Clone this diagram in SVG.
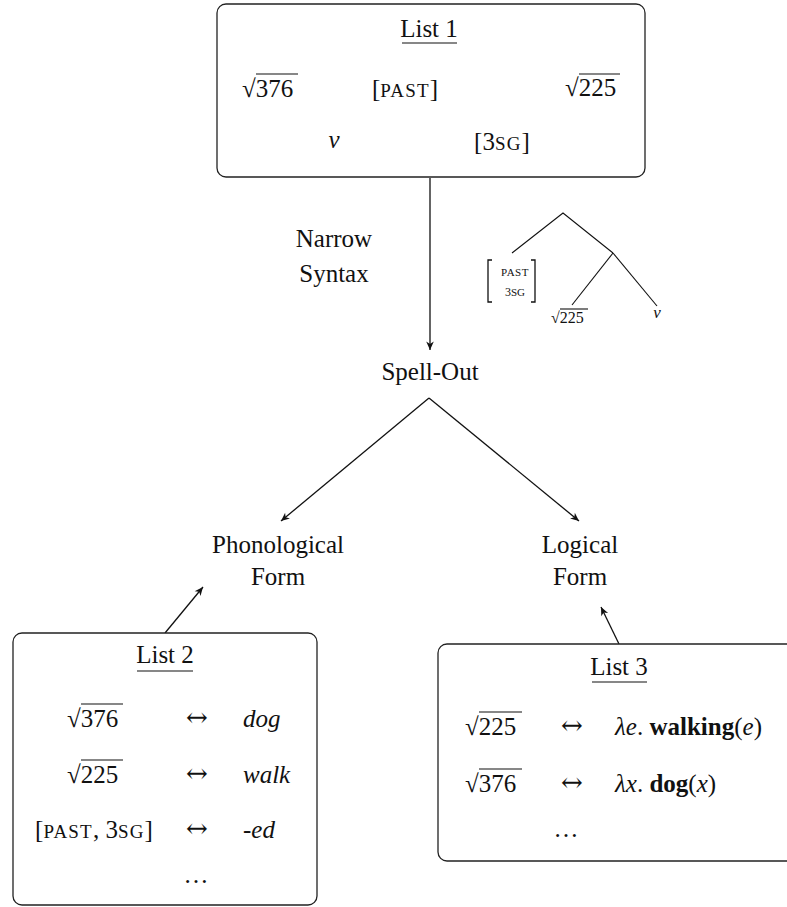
<svg xmlns="http://www.w3.org/2000/svg" width="787" height="907" viewBox="0 0 787 907">
  <style>
    text { font-family: "Liberation Serif", "Times New Roman", serif; fill: #111; }
    .t { font-size: 25px; }
    .sm { font-size: 19px; letter-spacing: 1.2px; }
    .it { font-style: italic; }
    .bf { font-weight: bold; }
    .arr { font-family: "DejaVu Serif", "Liberation Serif", serif; font-size: 26px; }
    .box { fill: #fff; stroke: #222; stroke-width: 1.3; }
    .ln { fill: none; stroke: #111; stroke-width: 1.3; }
    .thin { fill: none; stroke: #111; stroke-width: 1.1; }
  </style>
  <defs>
    <marker id="tip" viewBox="-9 -5 10 10" refX="0" refY="0" markerWidth="10" markerHeight="10" markerUnits="userSpaceOnUse" orient="auto">
      <path d="M0,0 L-8.5,-3.8 L-6,0 L-8.5,3.8 Z" fill="#111"/>
    </marker>
  </defs>

  <rect width="787" height="907" fill="#fff"/>

  <!-- connectors -->
  <g id="connectors">
    <line class="ln" x1="430" y1="178" x2="430" y2="350" marker-end="url(#tip)"/>
    <line class="ln" x1="429" y1="398" x2="281" y2="521" marker-end="url(#tip)"/>
    <line class="ln" x1="429" y1="398" x2="579" y2="521" marker-end="url(#tip)"/>
    <line class="ln" x1="165" y1="633" x2="203" y2="587" marker-end="url(#tip)"/>
    <line class="ln" x1="619" y1="644" x2="601" y2="607" marker-end="url(#tip)"/>
  </g>

  <!-- List 1: inventory of roots and features -->
  <g id="list1">
    <rect class="box" x="217" y="4" width="428" height="173" rx="9"/>
    <text class="t" x="429" y="37" text-anchor="middle">List 1</text>
    <line class="thin" x1="402" y1="43" x2="457" y2="43"/>
    <text class="t" x="242" y="97">√<tspan>376</tspan></text>
    <line class="thin" x1="256" y1="74" x2="298" y2="74"/>
    <text class="t" x="405" y="97" text-anchor="middle">[<tspan class="sm">PAST</tspan>]</text>
    <text class="t" x="565" y="96">√<tspan>225</tspan></text>
    <line class="thin" x1="579" y1="74" x2="620" y2="74"/>
    <text class="t it" x="334" y="148" text-anchor="middle">ν</text>
    <text class="t" x="502" y="150" text-anchor="middle">[3<tspan class="sm">SG</tspan>]</text>
  </g>

  <!-- Narrow Syntax label -->
  <g id="narrow-syntax">
    <text class="t" x="334" y="247" text-anchor="middle">Narrow</text>
    <text class="t" x="334" y="282" text-anchor="middle">Syntax</text>
  </g>

  <!-- small syntactic tree -->
  <g id="tree">
    <polyline class="thin" points="512,253 563,213 613,253"/>
    <line class="thin" x1="613" y1="253" x2="572" y2="305"/>
    <line class="thin" x1="613" y1="253" x2="657" y2="306"/>
    <polyline class="ln" points="492,260 488,260 488,302 492,302"/>
    <polyline class="ln" points="531,260 535,260 535,302 531,302"/>
    <text x="515" y="276" font-size="11" letter-spacing="0.5" text-anchor="middle">PAST</text>
    <text x="515" y="296" font-size="12" text-anchor="middle">3<tspan font-size="11">SG</tspan></text>
    <text x="551" y="323" font-size="16">√<tspan>225</tspan></text>
    <line class="thin" x1="560" y1="309" x2="588" y2="309"/>
    <text x="657" y="318" font-size="17" class="it" text-anchor="middle">ν</text>
  </g>

  <g id="spell-out">
    <text class="t" x="430" y="380" text-anchor="middle">Spell-Out</text>
  </g>

  <g id="pf">
    <text class="t" x="278" y="553" text-anchor="middle">Phonological</text>
    <text class="t" x="278" y="585" text-anchor="middle">Form</text>
  </g>

  <g id="lf">
    <text class="t" x="580" y="553" text-anchor="middle">Logical</text>
    <text class="t" x="580" y="585" text-anchor="middle">Form</text>
  </g>

  <!-- List 2: exponents -->
  <g id="list2">
    <rect class="box" x="13" y="633" width="304" height="272" rx="9"/>
    <text class="t" x="165" y="663" text-anchor="middle">List 2</text>
    <line class="thin" x1="137" y1="671" x2="193" y2="671"/>
    <text class="t" x="67" y="727">√<tspan>376</tspan></text>
    <line class="thin" x1="81" y1="704" x2="123" y2="704"/>
    <text class="arr" x="197" y="726" text-anchor="middle">↔</text>
    <text class="t it" x="243" y="727">dog</text>
    <text class="t" x="67" y="783">√<tspan>225</tspan></text>
    <line class="thin" x1="81" y1="760" x2="123" y2="760"/>
    <text class="arr" x="197" y="782" text-anchor="middle">↔</text>
    <text class="t it" x="243" y="783">walk</text>
    <text class="t" x="94" y="838" text-anchor="middle">[<tspan class="sm">PAST</tspan>, 3<tspan class="sm">SG</tspan>]</text>
    <text class="arr" x="197" y="837" text-anchor="middle">↔</text>
    <text class="t it" x="243" y="838">-ed</text>
    <text class="t" x="197" y="883" text-anchor="middle" letter-spacing="2">…</text>
  </g>

  <!-- List 3: meanings -->
  <g id="list3">
    <rect class="box" x="438" y="644" width="360" height="217" rx="9"/>
    <text class="t" x="619" y="675" text-anchor="middle">List 3</text>
    <line class="thin" x1="592" y1="682" x2="647" y2="682"/>
    <text class="t" x="465" y="735">√<tspan>225</tspan></text>
    <line class="thin" x1="479" y1="712" x2="522" y2="712"/>
    <text class="arr" x="572" y="734" text-anchor="middle">↔</text>
    <text class="t" x="615" y="735"><tspan class="it">λe</tspan>. <tspan class="bf">walking</tspan>(<tspan class="it">e</tspan>)</text>
    <text class="t" x="465" y="792">√<tspan>376</tspan></text>
    <line class="thin" x1="479" y1="769" x2="522" y2="769"/>
    <text class="arr" x="572" y="791" text-anchor="middle">↔</text>
    <text class="t" x="615" y="792"><tspan class="it">λx</tspan>. <tspan class="bf">dog</tspan>(<tspan class="it">x</tspan>)</text>
    <text class="t" x="567" y="837" text-anchor="middle" letter-spacing="2">…</text>
  </g>
</svg>
